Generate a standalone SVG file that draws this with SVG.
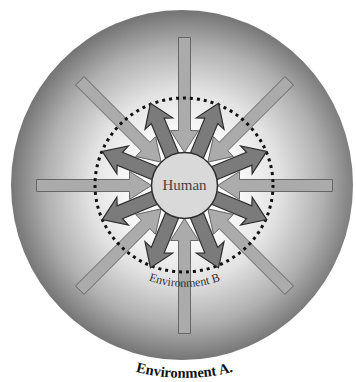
<svg xmlns="http://www.w3.org/2000/svg" xmlns:xlink="http://www.w3.org/1999/xlink" width="356" height="382" viewBox="0 0 356 382">
<style>
.light{fill:#ababab;stroke:#5e5e5e;stroke-width:0.9}
.dark{fill:#7b7b7b;stroke:#2e2e2e;stroke-width:1.2;stroke-linejoin:miter}
.dots{fill:none;stroke:#111;stroke-width:3;stroke-dasharray:3 4}
.serif{font-family:"Liberation Serif","DejaVu Serif",serif}
</style>
<defs>
<radialGradient id="bg" cx="184.5" cy="185.5" r="174" gradientUnits="userSpaceOnUse">
<stop offset="0" stop-color="#ffffff"/>
<stop offset="0.3" stop-color="#fbfbfb"/>
<stop offset="0.55" stop-color="#e2e2e2"/>
<stop offset="0.8" stop-color="#b0b0b0"/>
<stop offset="1" stop-color="#767676"/>
</radialGradient>
<polygon id="inArrow" class="light" points="-6,-148 6,-148 6,-55 14,-55 0,-33 -14,-55 -6,-55"/>
<polygon id="outArrow" class="dark" points="-7,-30 -7,-70 -15,-67 0,-89 15,-67 7,-70 7,-30"/>
<path id="arcB" d="M 82.5,185 A 102 102 0 0 0 286.5,185"/>
<path id="arcA" d="M -8.5,185 A 193 193 0 0 0 377.5,185"/>
</defs>
<g id="environment-a">
<ellipse cx="182" cy="185" rx="171" ry="175" fill="url(#bg)"/>
<text class="serif" font-size="14.5" font-weight="bold" fill="#111"><textPath xlink:href="#arcA" href="#arcA" startOffset="50%" text-anchor="middle">Environment A.</textPath></text>
</g>
<g id="connectors" transform="translate(184.5,185.5)">
<g id="inward">
<use href="#inArrow" xlink:href="#inArrow" transform="rotate(0)"/>
<use href="#inArrow" xlink:href="#inArrow" transform="rotate(45)"/>
<use href="#inArrow" xlink:href="#inArrow" transform="rotate(90)"/>
<use href="#inArrow" xlink:href="#inArrow" transform="rotate(135)"/>
<use href="#inArrow" xlink:href="#inArrow" transform="rotate(180)"/>
<use href="#inArrow" xlink:href="#inArrow" transform="rotate(225)"/>
<use href="#inArrow" xlink:href="#inArrow" transform="rotate(270)"/>
<use href="#inArrow" xlink:href="#inArrow" transform="rotate(315)"/>
</g>
</g>
<g id="environment-b">
<ellipse class="dots" cx="184" cy="185" rx="89" ry="87"/>
<text class="serif" font-size="12" fill="#333"><textPath xlink:href="#arcB" href="#arcB" startOffset="50%" text-anchor="middle">Environment B</textPath></text>
</g>
<g id="connectors-out" transform="translate(184.5,185.5)">
<use href="#outArrow" xlink:href="#outArrow" transform="rotate(22.5)"/>
<use href="#outArrow" xlink:href="#outArrow" transform="rotate(67.5)"/>
<use href="#outArrow" xlink:href="#outArrow" transform="rotate(112.5)"/>
<use href="#outArrow" xlink:href="#outArrow" transform="rotate(157.5)"/>
<use href="#outArrow" xlink:href="#outArrow" transform="rotate(202.5)"/>
<use href="#outArrow" xlink:href="#outArrow" transform="rotate(247.5)"/>
<use href="#outArrow" xlink:href="#outArrow" transform="rotate(292.5)"/>
<use href="#outArrow" xlink:href="#outArrow" transform="rotate(337.5)"/>
</g>
<g id="human">
<circle cx="184.5" cy="185.5" r="33" fill="#d9d9d9" stroke="#2e2e2e" stroke-width="1.5"/>
<text class="serif" x="184.5" y="190" font-size="15" fill="#444" text-anchor="middle">Human</text>
</g>
</svg>
